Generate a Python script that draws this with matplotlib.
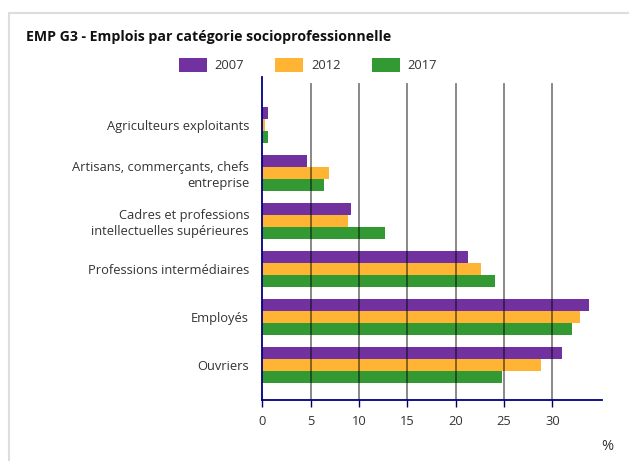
import matplotlib
matplotlib.use("Agg")
import matplotlib.pyplot as plt
from matplotlib.patches import Rectangle, Patch
import numpy as np

categories = ["Agriculteurs exploitants",
              "Artisans, commerçants, chefs\nentreprise",
              "Cadres et professions\nintellectuelles supérieures",
              "Professions intermédiaires",
              "Employés",
              "Ouvriers"]
years = ["2007", "2012", "2017"]
v2007 = [0.55, 4.6, 9.15, 21.25, 33.8, 31.0]
v2012 = [0.25, 6.85, 8.85, 22.6, 32.85, 28.8]
v2017 = [0.55, 6.35, 12.65, 24.05, 32.0, 24.8]
xticks = [0, 5, 10, 15, 20, 25, 30]

colors = ["#7132a0", "#ffb533", "#339933"]

plt.rcParams['font.family'] = ['Open Sans', 'DejaVu Sans']

fig = plt.figure(figsize=(6.29, 4.61), dpi=100)
W, H = 629, 461
fig.patches.append(Rectangle((9 / W, -0.1), 1.2, 1.1 - 13 / H, transform=fig.transFigure,
                             fill=False, edgecolor="#dddddd", linewidth=1.5))

ax = fig.add_axes([262.3 / W, 1 - 400 / H, (601.7 - 262.3) / W, (400 - 77) / H])
y = np.arange(len(categories))
h = 0.25
for i, (vals, c, lab) in enumerate(zip([v2007, v2012, v2017], colors, years)):
    ax.barh(y + (i - 1) * h, vals, height=h, color=c, label=lab, zorder=2)

ax.set_ylim(5.73, -1.0)
ax.set_xlim(0, 35.1)
ax.set_yticks(y)
ax.set_yticklabels(categories, fontsize=9.3, color="#333333", linespacing=1.25)
ax.tick_params(axis="y", length=0, pad=9.5)
ax.set_xticks(xticks)
ax.set_xticklabels([str(t) for t in xticks], fontsize=9.3, color="#333333")
ax.tick_params(axis="x", length=5, color="#000066", width=1, pad=6)
for t in xticks[1:]:
    ax.axvline(t, ymin=0, ymax=1 - 7 / 323, color="black", alpha=0.5, linewidth=1.3, zorder=3)
for s in ["top", "right"]:
    ax.spines[s].set_visible(False)
for s in ["left", "bottom"]:
    ax.spines[s].set_color("#000080")
    ax.spines[s].set_linewidth(1.3)
    ax.spines[s].set_zorder(4)

fig.text(26.5 / W, 1 - 37 / H, "EMP G3 - Emplois par catégorie socioprofessionnelle",
         fontsize=10.2, fontweight="bold", color="#111111", va="center", ha="left")

handles = [Patch(facecolor=c, edgecolor="none") for c in colors]
fig.legend(handles, years, loc="center", bbox_to_anchor=(308 / W, 1 - 65 / H), ncol=3,
           frameon=False, fontsize=9.3, handlelength=2.17, handleheight=1.24,
           handletextpad=0.62, columnspacing=2.4, labelcolor="#333333",
           borderpad=0, borderaxespad=0)

fig.text(607 / W, 1 - 446 / H, "%", fontsize=10.5, color="#333333", ha="center", va="center")

fig.savefig("out.png", dpi=100)
